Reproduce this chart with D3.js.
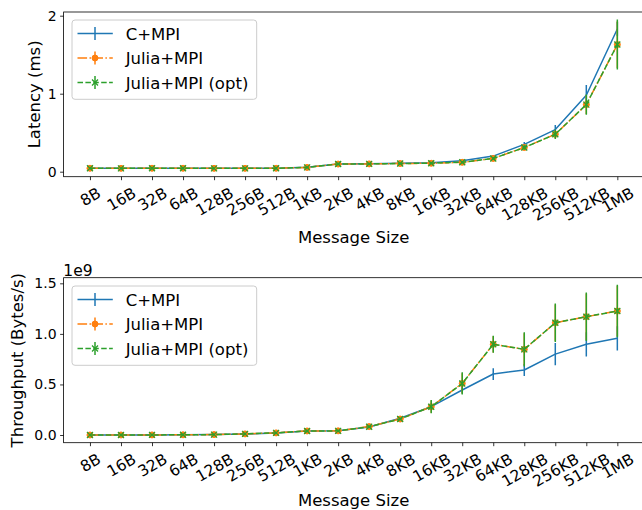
<!DOCTYPE html>
<html><head><meta charset="utf-8">
<script src="https://cdn.jsdelivr.net/npm/d3@7"></script>
<style>
body{margin:0;background:#fff}
svg{display:block}
text{font-family:"DejaVu Sans",sans-serif;fill:#000}
</style>
</head><body>
<svg id="chart" width="642" height="510"></svg>
<script>
// ---------- data ----------
const categories = ["8B","16B","32B","64B","128B","256B","512B","1KB","2KB","4KB","8KB","16KB","32KB","64KB","128KB","256KB","512KB","1MB"];
const seriesNames = ["C+MPI","Julia+MPI","Julia+MPI (opt)"];

// Latency (ms)
const latencyC      = [0.045,0.044,0.045,0.045,0.044,0.044,0.045,0.057,0.100,0.101,0.108,0.115,0.140,0.200,0.350,0.540,0.980,1.830];
const latencyCErr   = [0.003,0.003,0.003,0.003,0.003,0.003,0.003,0.004,0.006,0.006,0.007,0.008,0.012,0.015,0.030,0.060,0.130,0.090];
const latencyJ      = [0.044,0.043,0.044,0.044,0.043,0.043,0.044,0.055,0.098,0.100,0.105,0.108,0.120,0.170,0.310,0.480,0.860,1.630];
const latencyJErr   = [0.003,0.003,0.003,0.003,0.003,0.003,0.003,0.004,0.005,0.006,0.006,0.007,0.008,0.010,0.025,0.050,0.120,0.300];
const latencyJO     = [0.045,0.043,0.045,0.044,0.043,0.043,0.044,0.055,0.099,0.100,0.105,0.109,0.121,0.170,0.310,0.480,0.860,1.630];
const latencyJOErr  = [0.003,0.003,0.003,0.003,0.003,0.003,0.003,0.004,0.006,0.006,0.007,0.008,0.012,0.015,0.030,0.060,0.130,0.320];

// Throughput (x 1e9 Bytes/s)
const throughputC     = [0.0002,0.0004,0.0009,0.0018,0.004,0.010,0.020,0.040,0.041,0.080,0.165,0.280,0.445,0.603,0.643,0.800,0.897,0.956];
const throughputCErr  = [0.0000,0.0000,0.0001,0.0002,0.0005,0.001,0.002,0.004,0.004,0.008,0.012,0.025,0.035,0.058,0.060,0.110,0.120,0.120];
const throughputJ     = [0.0002,0.0004,0.0009,0.0018,0.004,0.011,0.021,0.040,0.041,0.083,0.158,0.280,0.510,0.897,0.847,1.110,1.170,1.226];
const throughputJErr  = [0.0000,0.0000,0.0001,0.0002,0.0005,0.001,0.002,0.004,0.004,0.008,0.010,0.060,0.100,0.080,0.160,0.180,0.230,0.250];
const throughputJO    = [0.0002,0.0004,0.0009,0.0018,0.004,0.011,0.021,0.040,0.041,0.082,0.158,0.280,0.510,0.897,0.847,1.110,1.170,1.226];
const throughputJOErr = [0.0000,0.0000,0.0001,0.0002,0.0005,0.001,0.002,0.004,0.004,0.009,0.012,0.066,0.110,0.084,0.170,0.190,0.240,0.260];

const latencyTicks = [0,1,2];
const throughputTicks = [0,0.5,1.0,1.5];

// ---------- styles ----------
const colors = ["#1f77b4","#ff7f0e","#2ca02c"];
const dashes = [null,"9.6,2.4,1.5,2.4","5.5,2.4"];
const markers = [null,"circle","x"];
const LW = 1.5;
const fsTick = 14, fsXTick = 15.5, fsLabel = 16.5, fsLegend = 16.5;

const svg = d3.select("#chart");

function drawPanel(cfg){
  const x = d3.scaleLinear().domain([-0.85, categories.length - 1 + 0.85]).range([63.6, 643.7]);
  const y = d3.scaleLinear().domain(cfg.yDomain).range([cfg.bottom, cfg.top]);
  const g = svg.append("g");

  const cid = "clip" + cfg.id;
  svg.append("clipPath").attr("id", cid).append("rect")
    .attr("x", x.range()[0]).attr("y", cfg.top)
    .attr("width", x.range()[1]-x.range()[0]).attr("height", cfg.bottom-cfg.top);

  const plot = g.append("g").attr("clip-path", `url(#${cid})`);
  const series = cfg.series;

  series.forEach((s, si) => {
    const sg = plot.append("g");
    sg.selectAll("line.err").data(s.values).enter().append("line")
      .attr("x1", (d,i)=>x(i)).attr("x2", (d,i)=>x(i))
      .attr("y1", (d,i)=>y(d - s.err[i])).attr("y2", (d,i)=>y(d + s.err[i]))
      .attr("stroke", colors[si]).attr("stroke-width", LW);
    sg.append("path").datum(s.values)
      .attr("d", d3.line().x((d,i)=>x(i)).y(d=>y(d)))
      .attr("fill","none").attr("stroke", colors[si]).attr("stroke-width", LW)
      .attr("stroke-dasharray", dashes[si]).attr("stroke-linejoin","round");
    if (markers[si] === "circle"){
      sg.selectAll("circle").data(s.values).enter().append("circle")
        .attr("cx",(d,i)=>x(i)).attr("cy",d=>y(d)).attr("r",3)
        .attr("fill",colors[si]).attr("stroke",colors[si]).attr("stroke-width",1);
    } else if (markers[si] === "x"){
      sg.selectAll("path.mk").data(s.values).enter().append("path")
        .attr("d",(d,i)=>{const cx=x(i), cy=y(d), r=3; return `M${cx-r},${cy-r}L${cx+r},${cy+r}M${cx-r},${cy+r}L${cx+r},${cy-r}`;})
        .attr("stroke",colors[si]).attr("stroke-width",1.3).attr("fill","none");
    }
  });

  // y axis
  const ya = g.append("g").attr("transform",`translate(${x.range()[0]},0)`)
    .call(d3.axisLeft(y).tickValues(cfg.ticks).tickFormat(cfg.fmt).tickSize(3.5).tickPadding(3.5));
  ya.select(".domain").remove();
  ya.selectAll(".tick line").attr("stroke","#000").attr("stroke-width",0.8);
  ya.selectAll(".tick text").attr("font-size",fsTick).attr("font-family","DejaVu Sans").attr("fill","#000");

  // x axis
  const xa = g.append("g").attr("transform",`translate(0,${cfg.bottom})`)
    .call(d3.axisBottom(x).tickValues(d3.range(categories.length)).tickFormat(i=>categories[i]).tickSize(3.5).tickPadding(3.5));
  xa.select(".domain").remove();
  xa.selectAll(".tick line").attr("stroke","#000").attr("stroke-width",0.8);
  xa.selectAll(".tick text").each(function(){
    const t = d3.select(this)
      .attr("font-size",fsXTick).attr("font-family","DejaVu Sans").attr("fill","#000")
      .attr("text-anchor","middle").attr("dy",null);
    const w = this.getComputedTextLength();
    const h = 1.164*fsXTick;
    const ext = w*0.5 + h*0.866;
    const cy = 7 + ext/2;
    t.attr("y", 0.346*fsXTick).attr("x",0)
     .attr("transform",`translate(0,${cy}) rotate(-30)`);
  });

  // frame (spines)
  g.append("rect").attr("x",x.range()[0]).attr("y",cfg.top)
    .attr("width",x.range()[1]-x.range()[0]).attr("height",cfg.bottom-cfg.top)
    .attr("fill","none").attr("stroke","#000").attr("stroke-width",0.8);

  // labels
  g.append("text").attr("transform",`translate(${cfg.ylabelX},${(cfg.top+cfg.bottom)/2}) rotate(-90)`)
    .attr("text-anchor","middle").attr("font-size",fsLabel).text(cfg.ylabel);
  g.append("text").attr("x",(x.range()[0]+x.range()[1])/2).attr("y",cfg.xlabelY)
    .attr("text-anchor","middle").attr("font-size",fsLabel).text("Message Size");
  if (cfg.offsetText){
    g.append("text").attr("x",63.3).attr("y",cfg.top-2).attr("font-size",15.5).text(cfg.offsetText);
  }

  // legend
  const lg = g.append("g");
  lg.append("rect").attr("x",72).attr("y",cfg.legTop).attr("width",184.7).attr("height",79.3)
    .attr("rx",3).attr("fill","#fff").attr("fill-opacity",0.8).attr("stroke","#ccc").attr("stroke-width",1);
  const rowY = [13.5,38,62.5];
  series.forEach((s, si) => {
    const ry = cfg.legTop + rowY[si];
    lg.append("line").attr("x1",77.5).attr("x2",112.8).attr("y1",ry).attr("y2",ry)
      .attr("stroke",colors[si]).attr("stroke-width",LW).attr("stroke-dasharray",dashes[si]);
    lg.append("line").attr("x1",95).attr("x2",95).attr("y1",ry-6.5).attr("y2",ry+6.5)
      .attr("stroke",colors[si]).attr("stroke-width",LW);
    if (markers[si]==="circle"){
      lg.append("circle").attr("cx",95).attr("cy",ry).attr("r",3).attr("fill",colors[si]).attr("stroke",colors[si]);
    } else if (markers[si]==="x"){
      lg.append("path").attr("d",`M92,${ry-3}L98,${ry+3}M92,${ry+3}L98,${ry-3}`)
        .attr("stroke",colors[si]).attr("stroke-width",1.3);
    }
    lg.append("text").attr("x",125.7).attr("y",ry+6.2).attr("font-size",fsLegend).text(seriesNames[si]);
  });
}

drawPanel({
  id:"top", top:12, bottom:176.7, yDomain:[-0.0641, 2.0474],
  ticks: latencyTicks, fmt: d3.format("d"),
  ylabel:"Latency (ms)", ylabelX:40, xlabelY:243, legTop:20,
  series:[
    {values:latencyC, err:latencyCErr},
    {values:latencyJ, err:latencyJErr},
    {values:latencyJO, err:latencyJOErr}
  ]
});

drawPanel({
  id:"bot", top:277.7, bottom:442.7, yDomain:[-0.0761, 1.5555],
  ticks: throughputTicks, fmt: d3.format(".1f"),
  ylabel:"Throughput (Bytes/s)", ylabelX:22.5, xlabelY:506, legTop:286,
  offsetText:"1e9",
  series:[
    {values:throughputC, err:throughputCErr},
    {values:throughputJ, err:throughputJErr},
    {values:throughputJO, err:throughputJOErr}
  ]
});
</script>
</body></html>
